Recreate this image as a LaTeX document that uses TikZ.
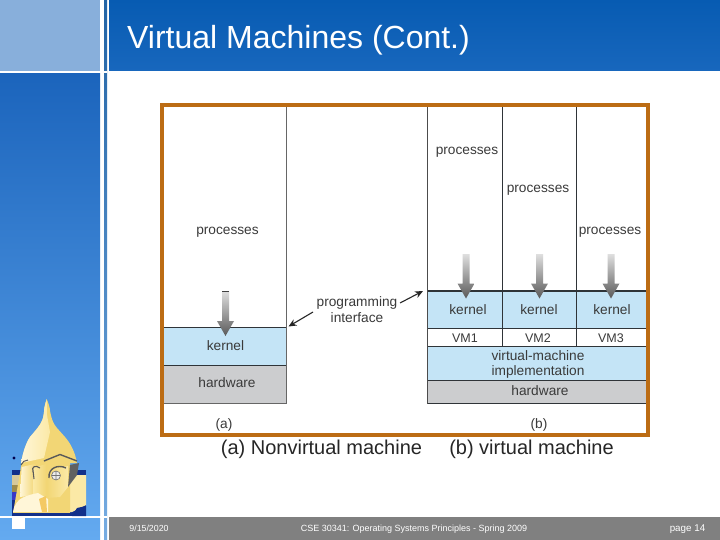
\documentclass[tikz,border=0pt]{standalone}
\usepackage{fontspec}
\setmainfont{Liberation Sans}
\usetikzlibrary{arrows.meta,calc}
\definecolor{orangeframe}{HTML}{BC6C14}
\definecolor{kblue}{HTML}{C4E4F6}
\definecolor{hgray}{HTML}{CCCDCF}
\definecolor{lineD}{HTML}{2F3438}
\definecolor{txt}{HTML}{3A3A3A}
\definecolor{footgray}{HTML}{808080}
\definecolor{domeA}{HTML}{FBE9A6}
\definecolor{domeB}{HTML}{F2D675}
\definecolor{domeC}{HTML}{FFF6D8}
\definecolor{ndblue}{HTML}{12308A}
\tikzset{
  lab/.style={font=\fontsize{13.7}{15}\selectfont,text=txt,inner sep=0pt,align=center},
  capt/.style={font=\fontsize{20}{22}\selectfont,text=black!85,inner sep=0pt,anchor=base},
  foot/.style={font=\fontsize{8.8}{10}\selectfont,text=white,inner sep=0pt,anchor=base},
  cell/.style={draw=lineD,line width=0.7pt},
  ptr/.style={draw=black!85,line width=1.1pt,{Stealth[length=8pt,width=7pt]}-}
}
\begin{document}
\begin{tikzpicture}[x=1pt,y=-1pt]
\useasboundingbox (0,0) rectangle (720,540);
\fill[white] (0,0) rectangle (720,540);
% sidebars
\fill[fill={rgb,255:red,136;green,175;blue,219}] (0,0) rectangle (100,71);
\shade[top color={rgb,255:red,27;green,100;blue,188},bottom color={rgb,255:red,100;green,170;blue,240}] (0,73) rectangle (100,540);
\shade[top color={rgb,255:red,35;green,100;blue,165},bottom color={rgb,255:red,118;green,172;blue,226}] (104,0) rectangle (107,540);
\shade[top color={rgb,255:red,7;green,91;blue,178},bottom color={rgb,255:red,24;green,103;blue,189}] (109,0) rectangle (720,71);
\fill[white] (0,71) rectangle (107,73);
\fill[white] (0,516) rectangle (107,517.5);
\fill[footgray] (109,517) rectangle (720,540);
\fill[white] (12,517) rectangle (25,529);
% dome: backdrop
\fill[ndblue] (12.3,470) rectangle (86,516);
\fill[domeA!70!gray] (12.3,475) rectangle (22,485);
\fill[black!35!domeB] (12.3,485) rectangle (22,492);
\fill[blue!55!gray] (12.3,492) rectangle (22,500);
\fill[domeA] (68,475) -- (86,475) -- (86,505) -- (72,512) -- (50,513) -- (50,490) -- cycle;
% dome: cupola
\fill[domeB] (46.7,399) .. controls (45.5,402) and (45,405) .. (44.3,408) .. controls (44,413) and (43.5,417) .. (42.3,420)
  .. controls (40,426) and (35,431) .. (30,437) .. controls (26,443) and (23,452) .. (21,463) -- (77,463)
  .. controls (75,452) and (71,444) .. (65,437) .. controls (60,431) and (54,426) .. (52.3,420)
  .. controls (51,416) and (50,412) .. (49.7,408) .. controls (49,405) and (48,402) .. (46.7,399) -- cycle;
\shade[left color=domeC,right color=domeA] (46.7,399) .. controls (45.5,402) and (45,405) .. (44.3,408) .. controls (44,413) and (43.5,417) .. (42.3,420)
  .. controls (40,426) and (35,431) .. (30,437) .. controls (26,443) and (23,452) .. (21,463) -- (44,458) -- (50,432) -- (47,415) -- cycle;
% dome: building
\fill[domeB] (21.7,463) -- (70,463) -- (70,513) -- (13,513) -- cycle;
\shade[left color=domeC,right color=domeB] (21.7,467) -- (35,464) -- (35,495) -- (20,497) -- cycle;
\shade[left color=domeA,right color=domeB] (33,468) -- (46,464) -- (46,497) -- (33,497) -- cycle;
\shade[left color=domeB,right color=domeA] (47,470) -- (68,466) -- (68,487) -- (60,497) -- (47,498) -- cycle;
\fill[black!62] (70,465) -- (79,463) -- (77,475) -- (68,487) -- cycle;
\draw[black!65,line width=1.4pt] (44,461) -- (60,454.5) -- (77,461);
\draw[black!65,line width=1.4pt] (49,478) .. controls (48,468) and (58,464) .. (66,468);
\draw[black!65,line width=1.1pt] (33,472) .. controls (31,466) and (36,465) .. (40,468) (33,470) -- (34,479);
\draw[black!65,line width=1pt] (21,465) .. controls (22,462) and (25,460) .. (28,460);
\fill[white!85!gray] (56,475.5) circle (4.5);
\draw[black!55,line width=0.6pt] (56,475.5) circle (4.5) (56,471) -- (56,480) (51.5,475.5) -- (60.5,475.5);
\fill[domeC] (13,512) .. controls (14,505) and (18,500) .. (22,498) .. controls (28,495) and (33,494) .. (38,493) -- (48,499) -- (48,512) -- cycle;
\fill[domeB!85!orange] (39,499) -- (46,496) -- (47,512) -- (42,512) -- cycle;
\fill[ndblue] (12.3,513) rectangle (86,516);
\fill[ndblue] (72,516) -- (86,516) -- (86,506) -- (77,508) -- cycle;
\fill[black!70!blue] (14,458) circle (1.6);
% title
\node[anchor=base west,inner sep=0pt,text=white,font=\fontsize{32}{34}\selectfont] (title) at (127,49) {Virtual Machines (Cont.)};
% figure frame interior
\path[fill=kblue] (163.5,327) rectangle (286,365);
\path[fill=hgray] (163.5,365) rectangle (286,403.5);
\path[fill=kblue] (428,292) rectangle (647,328);
\path[fill=kblue] (428,346.5) rectangle (647,380);
\path[fill=hgray] (428,380) rectangle (647,403.5);
% cell lines
\draw[cell] (163.5,327) -- (286,327);
\draw[cell] (163.5,365) -- (286,365);
\draw[cell,draw=black!60] (163.5,403.5) -- (286,403.5);
\draw[cell,draw=black!60] (286.5,106) -- (286.5,403.5);
\draw[cell,draw=black!70] (427.5,106) -- (427.5,403.5);
\draw[lineD,line width=1.3pt] (428,291) -- (647,291);
\draw[cell] (428,328) -- (647,328);
\draw[cell] (428,346.5) -- (647,346.5);
\draw[cell] (428,380) -- (647,380);
\draw[cell] (428,403.5) -- (647,403.5);
\draw[cell] (502,106) -- (502,346.5);
\draw[cell] (576,106) -- (576,346.5);
% frame
\draw[orangeframe,line width=4pt] (162,105) rectangle (648,435);
% process arrows
\foreach \x/\ty/\by in {225.5/291/336, 466/254/298.5, 539.5/254/298.5, 611/254/298.5}{
  \shade[top color=white!75!gray,bottom color=black!65]
    (\x-3.5,\ty) -- (\x+3.5,\ty) -- (\x+3.5,\by-15) -- (\x+8.5,\by-15) -- (\x,\by) -- (\x-8.5,\by-15) -- (\x-3.5,\by-15) -- cycle;
}
\draw[black!75,line width=0.6pt] (222,291) -- (229,291);
% labels
\node[lab] (p0) at (227.5,232.5) {processes};
\node[lab] (p1) at (467,152) {processes};
\node[lab] (p2) at (538,190.5) {processes};
\node[lab] (p3) at (610,232.5) {processes};
\node[lab] (k0) at (225.5,346) {kernel};
\node[lab] (h0) at (227,383) {hardware};
\node[lab] (k1) at (468,310) {kernel};
\node[lab] (k2) at (539,310) {kernel};
\node[lab] (k3) at (612,310) {kernel};
\node[lab,font=\fontsize{12.5}{14}\selectfont] (v1) at (465,338) {VM1};
\node[lab,font=\fontsize{12.5}{14}\selectfont] (v2) at (538,338) {VM2};
\node[lab,font=\fontsize{12.5}{14}\selectfont] (v3) at (611,338) {VM3};
\node[lab,font=\fontsize{13.7}{15}\selectfont] (vmi) at (538,364) {virtual-machine\\implementation};
\node[lab] (h1) at (540,391) {hardware};
\node[lab,font=\fontsize{13.7}{15.5}\selectfont] (pi) at (357,309.5) {programming\\interface};
\node[lab] (la) at (224,425) {(a)};
\node[lab] (lb) at (539,425) {(b)};
\coordinate (ptrL) at (288.5,326.5);
\coordinate (ptrR) at (423,291);
\draw[ptr] (ptrL) -- (313,312);
\draw[ptr] (ptrR) -- (400,303);
% captions
\node[capt] (c1) at (321.5,454.5) {(a) Nonvirtual machine};
\node[capt] (c2) at (531.5,454.5) {(b) virtual machine};
% footer
\node[foot] (f1) at (149,531) {9/15/2020};
\node[foot,font=\fontsize{9}{10}\selectfont] (f2) at (414,531) {CSE 30341: Operating Systems Principles - Spring 2009};
\node[foot,font=\fontsize{9.8}{10}\selectfont] (f3) at (687.5,531) {page 14};
\end{tikzpicture}
\end{document}
